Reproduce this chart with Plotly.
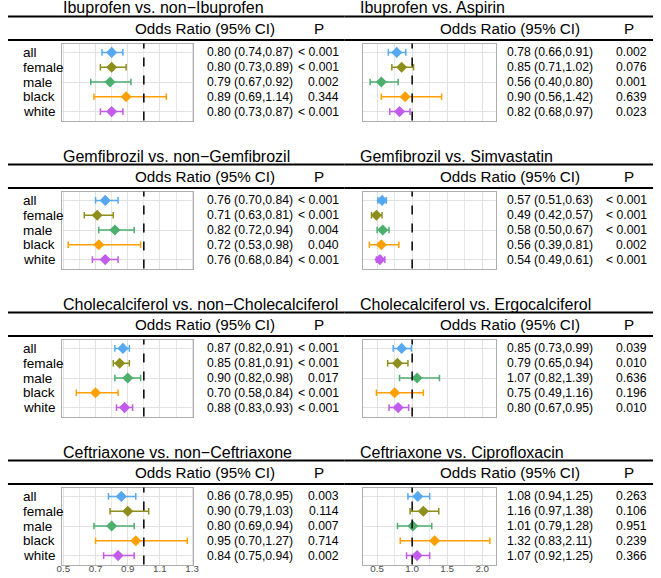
import plotly.graph_objects as go

W, H = 661, 578

groups = ["all", "female", "male", "black", "white"]
colors = ["#56A8F0", "#8E8E1C", "#4DAF6E", "#FFA000", "#C25AEB"]

titles = [
    "Ibuprofen vs. non\u2212Ibuprofen",
    "Ibuprofen vs. Aspirin",
    "Gemfibrozil vs. non\u2212Gemfibrozil",
    "Gemfibrozil vs. Simvastatin",
    "Cholecalciferol vs. non\u2212Cholecalciferol",
    "Cholecalciferol vs. Ergocalciferol",
    "Ceftriaxone vs. non\u2212Ceftriaxone",
    "Ceftriaxone vs. Ciprofloxacin",
]

ibu_non_or = [0.80, 0.80, 0.79, 0.89, 0.80]
ibu_non_lo = [0.74, 0.73, 0.67, 0.69, 0.73]
ibu_non_hi = [0.87, 0.89, 0.92, 1.14, 0.87]
ibu_non_p = ["< 0.001", "< 0.001", "0.002", "0.344", "< 0.001"]

ibu_asp_or = [0.78, 0.85, 0.56, 0.90, 0.82]
ibu_asp_lo = [0.66, 0.71, 0.40, 0.56, 0.68]
ibu_asp_hi = [0.91, 1.02, 0.80, 1.42, 0.97]
ibu_asp_p = ["0.002", "0.076", "0.001", "0.639", "0.023"]

gem_non_or = [0.76, 0.71, 0.82, 0.72, 0.76]
gem_non_lo = [0.70, 0.63, 0.72, 0.53, 0.68]
gem_non_hi = [0.84, 0.81, 0.94, 0.98, 0.84]
gem_non_p = ["< 0.001", "< 0.001", "0.004", "0.040", "< 0.001"]

gem_sim_or = [0.57, 0.49, 0.58, 0.56, 0.54]
gem_sim_lo = [0.51, 0.42, 0.50, 0.39, 0.49]
gem_sim_hi = [0.63, 0.57, 0.67, 0.81, 0.61]
gem_sim_p = ["< 0.001", "< 0.001", "< 0.001", "0.002", "< 0.001"]

cho_non_or = [0.87, 0.85, 0.90, 0.70, 0.88]
cho_non_lo = [0.82, 0.81, 0.82, 0.58, 0.83]
cho_non_hi = [0.91, 0.91, 0.98, 0.84, 0.93]
cho_non_p = ["< 0.001", "< 0.001", "0.017", "< 0.001", "< 0.001"]

cho_erg_or = [0.85, 0.79, 1.07, 0.75, 0.80]
cho_erg_lo = [0.73, 0.65, 0.82, 0.49, 0.67]
cho_erg_hi = [0.99, 0.94, 1.39, 1.16, 0.95]
cho_erg_p = ["0.039", "0.010", "0.636", "0.196", "0.010"]

cef_non_or = [0.86, 0.90, 0.80, 0.95, 0.84]
cef_non_lo = [0.78, 0.79, 0.69, 0.70, 0.75]
cef_non_hi = [0.95, 1.03, 0.94, 1.27, 0.94]
cef_non_p = ["0.003", "0.114", "0.007", "0.714", "0.002"]

cef_cip_or = [1.08, 1.16, 1.01, 1.32, 1.07]
cef_cip_lo = [0.94, 0.97, 0.79, 0.83, 0.92]
cef_cip_hi = [1.25, 1.38, 1.28, 2.11, 1.25]
cef_cip_p = ["0.263", "0.106", "0.951", "0.239", "0.366"]

panels = [
    (titles[0], ibu_non_or, ibu_non_lo, ibu_non_hi, ibu_non_p),
    (titles[1], ibu_asp_or, ibu_asp_lo, ibu_asp_hi, ibu_asp_p),
    (titles[2], gem_non_or, gem_non_lo, gem_non_hi, gem_non_p),
    (titles[3], gem_sim_or, gem_sim_lo, gem_sim_hi, gem_sim_p),
    (titles[4], cho_non_or, cho_non_lo, cho_non_hi, cho_non_p),
    (titles[5], cho_erg_or, cho_erg_lo, cho_erg_hi, cho_erg_p),
    (titles[6], cef_non_or, cef_non_lo, cef_non_hi, cef_non_p),
    (titles[7], cef_cip_or, cef_cip_lo, cef_cip_hi, cef_cip_p),
]

FONT = "Liberation Sans, Arial, Helvetica, sans-serif"


def col_range(col):
    los = [v for k, p in enumerate(panels) if k % 2 == col for v in p[2]]
    his = [v for k, p in enumerate(panels) if k % 2 == col for v in p[3]]
    lo, hi = min(los), max(his)
    pad = (hi - lo) * 0.05
    return [lo - pad, hi + pad]


col_cfg = [
    dict(box=(57.3, 190.7), title_x=56, hdr_or=203, hdr_p=319, or_x=203, p_x=341,
         label_x=15, dtick=0.2, minor=0.1, line=(2, 345)),
    dict(box=(364, 499), title_x=359, hdr_or=513.5, hdr_p=635, or_x=508, p_x=655,
         label_x=None, dtick=0.5, minor=0.25, line=(345, 659)),
]


def py(y):
    return 1 - y / H


fig = go.Figure()
annotations = []
shapes = []
layout_axes = {}

for k, (title, orv, lo, hi, pv) in enumerate(panels):
    r, c = divmod(k, 2)
    base = 148 * r
    cfg = col_cfg[c]
    n = k + 1
    xa = "x" if n == 1 else f"x{n}"
    ya = "y" if n == 1 else f"y{n}"
    xname = "xaxis" if n == 1 else f"xaxis{n}"
    yname = "yaxis" if n == 1 else f"yaxis{n}"

    for i, g in enumerate(groups):
        fig.add_trace(go.Scatter(
            x=[orv[i]], y=[g], mode="markers",
            marker=dict(symbol="diamond", size=8.5, color=colors[i], line=dict(width=0)),
            error_x=dict(type="data", symmetric=False,
                         array=[hi[i] - orv[i]], arrayminus=[orv[i] - lo[i]],
                         width=3.3, thickness=1.5, color=colors[i]),
            xaxis=xa, yaxis=ya, showlegend=False, hoverinfo="skip",
        ))

    box_top = 43.5 + base
    box_bot = box_top + 77
    layout_axes[xname] = dict(
        domain=[cfg["box"][0] / W, cfg["box"][1] / W],
        range=col_range(c), anchor=ya,
        tick0=0.5, dtick=cfg["dtick"], tickformat=".1f",
        showgrid=True, gridcolor="#E2E2E2", gridwidth=1,
        minor=dict(tick0=0.5, dtick=cfg["minor"], showgrid=True,
                   gridcolor="#E8E8E8", gridwidth=1),
        showline=True, mirror=True, linecolor="#ADADAD", linewidth=1.2,
        zeroline=False, ticks="",
        showticklabels=(r == 3), ticklabelstandoff=-5,
        tickfont=dict(size=9.8, color="#4D4D4D", family=FONT),
    )
    layout_axes[yname] = dict(
        domain=[py(box_bot), py(box_top)],
        type="category", categoryorder="array", categoryarray=groups,
        range=[4.6, -0.6], anchor=xa,
        showgrid=True, gridcolor="#E2E2E2", gridwidth=1,
        showline=True, mirror=True, linecolor="#ADADAD", linewidth=1.2,
        zeroline=False, showticklabels=False, ticks="",
    )

    shapes.append(dict(type="line", xref=xa, yref=f"{ya} domain", x0=1, x1=1, y0=0, y1=1,
                       line=dict(color="black", width=1.5, dash="dash"), layer="above"))
    for yl in (16.5 + base, 40 + base):
        shapes.append(dict(type="line", xref="paper", yref="paper",
                           x0=cfg["line"][0] / W, x1=cfg["line"][1] / W,
                           y0=py(yl), y1=py(yl), line=dict(color="black", width=1.8)))

    annotations.append(dict(text=title, xref="paper", yref="paper", x=cfg["title_x"] / W,
                            y=py(8 + base), xanchor="left", yanchor="middle", showarrow=False,
                            font=dict(size=16, color="black", family=FONT)))
    annotations.append(dict(text="Odds Ratio (95% CI)", xref="paper", yref="paper",
                            x=cfg["hdr_or"] / W, y=py(28.5 + base), xanchor="center",
                            yanchor="middle", showarrow=False,
                            font=dict(size=15.2, color="black", family=FONT)))
    annotations.append(dict(text="P", xref="paper", yref="paper",
                            x=cfg["hdr_p"] / W, y=py(28.5 + base), xanchor="center",
                            yanchor="middle", showarrow=False,
                            font=dict(size=15.2, color="black", family=FONT)))
    for i, g in enumerate(groups):
        if cfg["label_x"] is not None:
            annotations.append(dict(text=g, xref="paper", yref=ya, x=cfg["label_x"] / W, y=i,
                                    xanchor="left", yanchor="middle", showarrow=False,
                                    font=dict(size=13.5, color="black", family=FONT)))
        annotations.append(dict(text=f"{orv[i]:.2f} ({lo[i]:.2f},{hi[i]:.2f})",
                                xref="paper", yref=ya, x=cfg["or_x"] / W, y=i,
                                xanchor="left", yanchor="middle", showarrow=False,
                                font=dict(size=12.2, color="black", family=FONT)))
        annotations.append(dict(text=pv[i], xref="paper", yref=ya, x=cfg["p_x"] / W, y=i,
                                xanchor="right", yanchor="middle", showarrow=False,
                                font=dict(size=12.2, color="black", family=FONT)))

fig.update_layout(
    width=W, height=H, margin=dict(l=0, r=0, t=0, b=0),
    paper_bgcolor="white", plot_bgcolor="white", showlegend=False,
    annotations=annotations, shapes=shapes, font=dict(family=FONT),
    **layout_axes,
)

fig.write_html("out.html", config={"displayModeBar": False},
               post_script="document.body.style.margin='0';document.body.style.overflow='hidden';")
